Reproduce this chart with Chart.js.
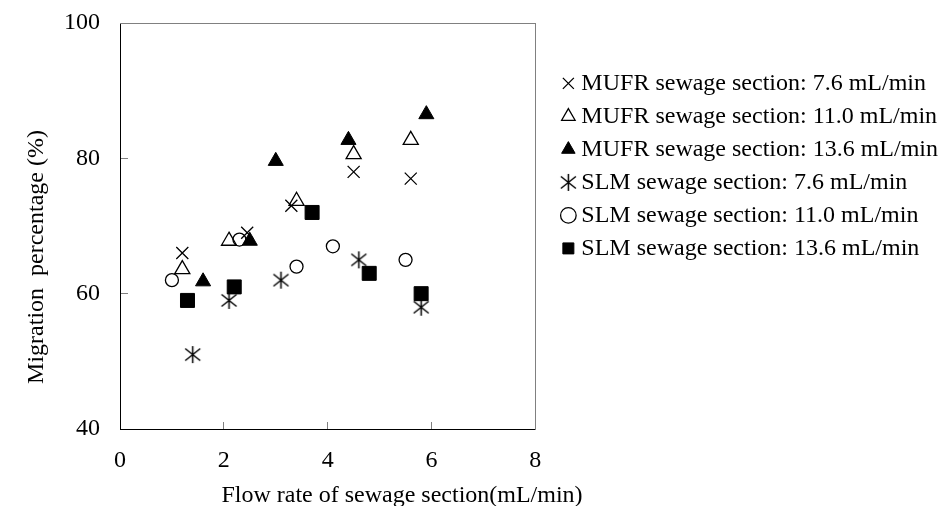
<!DOCTYPE html>
<html>
<head>
<meta charset="utf-8">
<title>Migration percentage</title>
<script src="https://cdn.jsdelivr.net/npm/chart.js@4.4.1/dist/chart.umd.min.js"></script>
<style>
  body { margin: 0; background: #fff; }
  #wrap { width: 948px; height: 506px; position: relative; }
</style>
</head>
<body>
<div id="wrap"><canvas id="myChart"></canvas></div>
<script>
// values
var seriesNames = [
    "MUFR sewage section: 7.6 mL/min",
    "MUFR sewage section: 11.0 mL/min",
    "MUFR sewage section: 13.6 mL/min",
    "SLM sewage section: 7.6 mL/min",
    "SLM sewage section: 11.0 mL/min",
    "SLM sewage section: 13.6 mL/min"
];

var mufr76X = [1.2, 2.45, 3.3, 4.5, 5.6];
var mufr76Y = [66, 69, 73, 78, 77];

var mufr110X = [1.2, 2.1, 3.4, 4.5, 5.6];
var mufr110Y = [63.6, 67.8, 73.7, 80.6, 82.7];

var mufr136X = [1.6, 2.5, 3.0, 4.4, 5.9];
var mufr136Y = [61.8, 67.8, 79.6, 82.7, 86.5];

var slm76X = [1.4, 2.1, 3.1, 4.6, 5.8];
var slm76Y = [51, 59, 62, 65, 58];

var slm110X = [1.0, 2.3, 3.4, 4.1, 5.5];
var slm110Y = [62, 68, 64, 67, 65];

var slm136X = [1.3, 2.2, 3.7, 4.8, 5.8];
var slm136Y = [59, 61, 72, 63, 60];

var xTicks = [0, 2, 4, 6, 8];
var yTicks = [40, 60, 80, 100];

function toPoints(xs, ys)
{
    var pts = [];
    for (var i = 0; i < xs.length; i++) {
        pts.push({x: xs[i], y: ys[i]});
    }
    return pts;
}

// six-armed asterisk marker (x with a vertical bar)
function makeStar()
{
    var c = document.createElement("canvas");
    c.width = 19;
    c.height = 19;
    var g = c.getContext("2d");
    g.strokeStyle = "#000";
    g.lineWidth = 1.5;
    g.beginPath();
    g.moveTo(9.5, 1); g.lineTo(9.5, 18);
    g.moveTo(2, 3.5); g.lineTo(17, 15.5);
    g.moveTo(17, 3.5); g.lineTo(2, 15.5);
    g.stroke();
    return c;
}

var axisTitles = {
    id: "axisTitles",
    afterDraw: function(chart) {
        var ctx = chart.ctx;
        ctx.save();
        ctx.fillStyle = "#000";
        ctx.font = "24px 'Liberation Serif'";
        ctx.textAlign = "center";
        ctx.textBaseline = "alphabetic";
        ctx.fillText("Flow rate of sewage section(mL/min)", 402, 502);
        ctx.translate(37, 257);
        ctx.rotate(-Math.PI / 2);
        ctx.textBaseline = "middle";
        ctx.fillText("Migration  percentage (%)", 0, 0);
        ctx.restore();
    }
};

function drawChart()
{
    Chart.defaults.font.family = "'Liberation Serif', 'Times New Roman', serif";
    Chart.defaults.color = "#000";

    var star = makeStar();
    var ctx = document.getElementById("myChart").getContext("2d");

    var myChart = new Chart(ctx, {
        type: "scatter",
        data: {
            datasets: [
                { label: seriesNames[0], data: toPoints(mufr76X, mufr76Y), pointStyle: "crossRot",
                  pointRadius: 8.5, borderColor: "#000", backgroundColor: "#000", borderWidth: 1.3 },
                { label: seriesNames[1], data: toPoints(mufr110X, mufr110Y), pointStyle: "triangle",
                  pointRadius: 8.7, borderColor: "#000", backgroundColor: "rgba(0,0,0,0)", borderWidth: 1.3 },
                { label: seriesNames[2], data: toPoints(mufr136X, mufr136Y), pointStyle: "triangle",
                  pointRadius: 8.7, borderColor: "#000", backgroundColor: "#000", borderWidth: 1 },
                { label: seriesNames[3], data: toPoints(slm76X, slm76Y), pointStyle: star,
                  pointRadius: 9, borderColor: "#000", backgroundColor: "#000", borderWidth: 1.3 },
                { label: seriesNames[4], data: toPoints(slm110X, slm110Y), pointStyle: "circle",
                  pointRadius: 6.5, borderColor: "#000", backgroundColor: "rgba(0,0,0,0)", borderWidth: 1.3 },
                { label: seriesNames[5], data: toPoints(slm136X, slm136Y), pointStyle: "rect",
                  pointRadius: 9.9, borderColor: "#000", backgroundColor: "#000", borderWidth: 1 }
            ]
        },
        options: {
            responsive: true,
            maintainAspectRatio: false,
            animation: false,
            layout: { padding: 0 },
            plugins: {
                tooltip: { enabled: false },
                legend: {
                    position: "right",
                    align: "start",
                    maxWidth: 420,
                    title: { display: true, text: " ", font: { size: 12 }, padding: { top: 0, bottom: 48 } },
                    labels: {
                        usePointStyle: true,
                        boxWidth: 2,
                        boxHeight: 11,
                        padding: 9,
                        color: "#000",
                        font: { size: 24 }
                    }
                }
            },
            scales: {
                x: {
                    type: "linear",
                    position: "bottom",
                    min: 0,
                    max: 8,
                    afterBuildTicks: function(scale) {
                        scale.ticks = xTicks.map(function(v) { return {value: v}; });
                    },
                    afterFit: function(scale) { scale.height = 77; },
                    grid: { drawOnChartArea: false, drawTicks: true, tickLength: -7, color: "#808080" },
                    border: { color: "#000", width: 1 },
                    ticks: { font: { size: 24 }, color: "#000", padding: 24, maxRotation: 0 }
                },
                y: {
                    type: "linear",
                    position: "left",
                    min: 40,
                    max: 100,
                    afterBuildTicks: function(scale) {
                        scale.ticks = yTicks.map(function(v) { return {value: v}; });
                    },
                    afterFit: function(scale) {
                        scale.width = 120;
                        scale.paddingTop = 0;
                        scale.paddingBottom = 0;
                    },
                    grid: { drawOnChartArea: false, drawTicks: true, tickLength: -8, color: "#808080" },
                    border: { color: "#000", width: 1 },
                    ticks: { font: { size: 24 }, color: "#000", padding: 28 }
                },
                x2: {
                    type: "linear",
                    position: "top",
                    afterFit: function(scale) { scale.height = 23; },
                    grid: { display: false, drawTicks: false },
                    border: { color: "#808080", width: 1 },
                    ticks: { display: false }
                },
                y2: {
                    type: "linear",
                    position: "right",
                    afterFit: function(scale) { scale.width = 23; },
                    grid: { display: false, drawTicks: false },
                    border: { color: "#808080", width: 1 },
                    ticks: { display: false }
                }
            }
        },
        plugins: [axisTitles]
    });
}

window.onload = drawChart;
</script>
</body>
</html>
